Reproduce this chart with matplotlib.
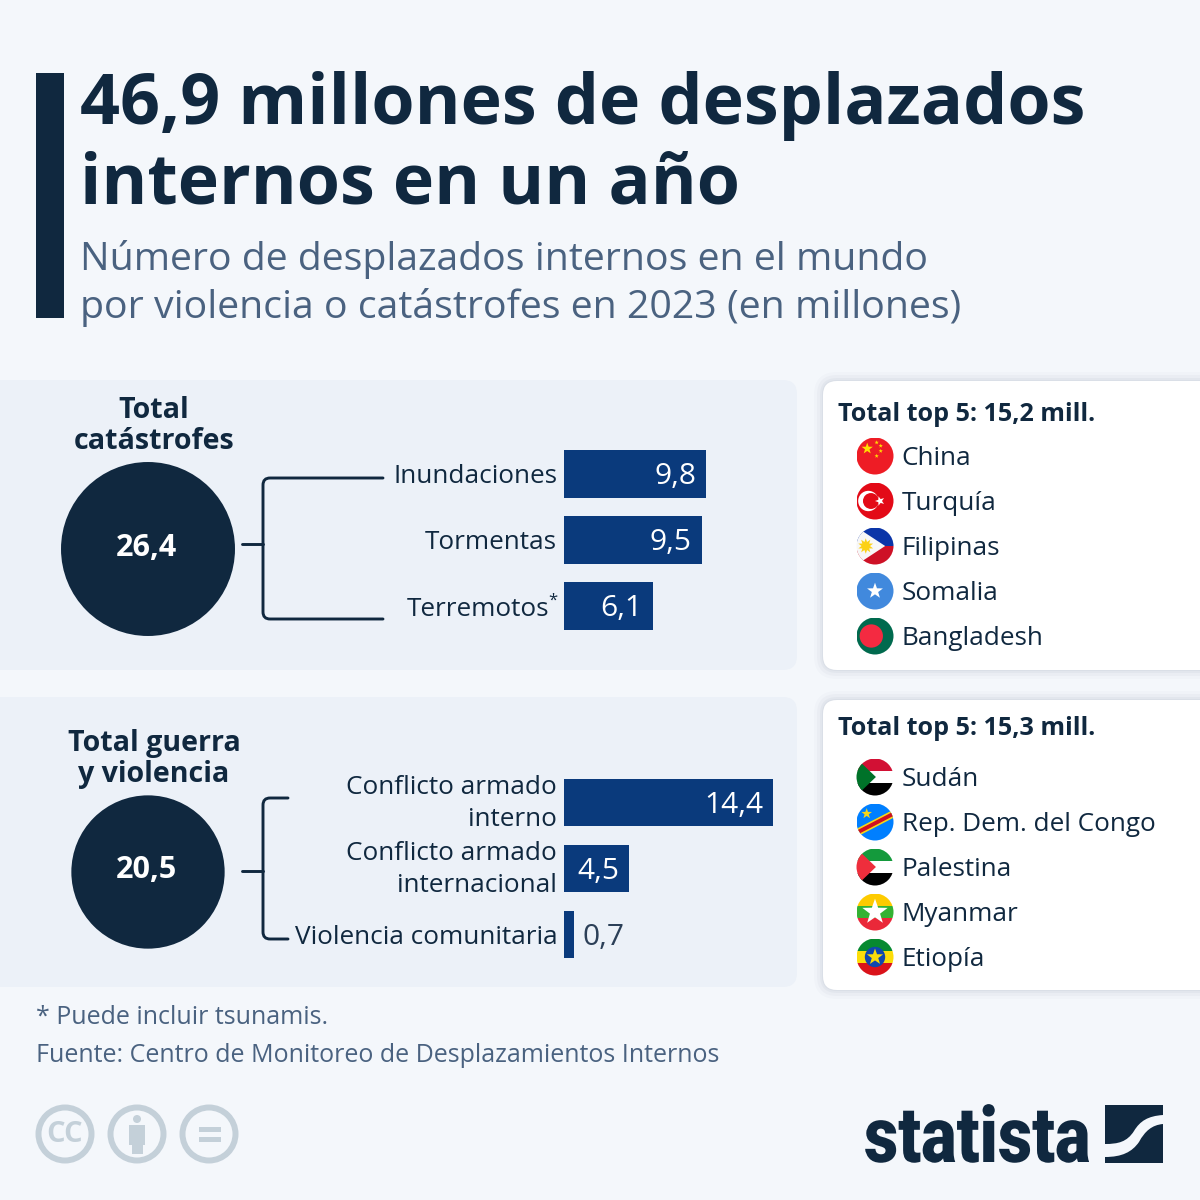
# -*- coding: utf-8 -*-
import numpy as np
import matplotlib
matplotlib.use('Agg')
import matplotlib.pyplot as plt
from matplotlib.patches import Circle, FancyBboxPatch, Polygon, Rectangle, PathPatch
from matplotlib.path import Path
from matplotlib.patheffects import AbstractPathEffect
from matplotlib.transforms import Affine2D

plt.rcParams['font.family'] = ['Open Sans', 'DejaVu Sans']

#Data, in millions of people
catastrophe_total = 26.4
catastrophe_labels = ['Inundaciones', 'Tormentas', 'Terremotos*']
catastrophe_values = [9.8, 9.5, 6.1]
violence_total = 20.5
violence_labels = ['Conflicto armado\ninterno', 'Conflicto armado\ninternacional', 'Violencia comunitaria']
violence_values = [14.4, 4.5, 0.7]
catastrophe_countries = ['China', 'Turquía', 'Filipinas', 'Somalia', 'Bangladesh']
violence_countries = ['Sudán', 'Rep. Dem. del Congo', 'Palestina', 'Myanmar', 'Etiopía']
catastrophe_top5 = 'Total top 5: 15,2 mill.'
violence_top5 = 'Total top 5: 15,3 mill.'

title_lines = ['46,9 millones de desplazados', 'internos en un año']
subtitle_lines = ['Número de desplazados internos en el mundo',
                  'por violencia o catástrofes en 2023 (en millones)']
note = '* Puede incluir tsunamis.'
source = 'Fuente: Centro de Monitoreo de Desplazamientos Internos'

NAVY = '#10283f'
BAR = '#0a3a7c'
SLATE = '#4a6280'
BG = '#f4f7fb'
PANEL = '#ecf1f8'
ICON = '#c4d0d9'

fig = plt.figure(figsize=(12, 12), dpi=100, facecolor=BG)
canvas = fig.add_axes([0, 0, 1, 1])
canvas.set_xlim(0, 1200)
canvas.set_ylim(1200, 0)
canvas.axis('off')


class Squeeze(AbstractPathEffect):
    #narrows a text horizontally around a fixed display x
    def __init__(self, x0, sx):
        super().__init__()
        self.x0 = x0
        self.sx = sx

    def draw_path(self, renderer, gc, tpath, affine, rgbFace=None):
        squeeze = Affine2D().translate(-self.x0, 0).scale(self.sx, 1).translate(self.x0, 0)
        renderer.draw_path(gc, tpath, affine + squeeze, rgbFace)


def fmt(v):
    return ('%.1f' % v).replace('.', ',')


def rounded(x0, y0, x1, y1, r, color, z=1, alpha=1):
    p = FancyBboxPatch((x0, y0), x1 - x0, y1 - y0, boxstyle='round,pad=0,rounding_size=%g' % r,
                       fc=color, ec='none', zorder=z, alpha=alpha)
    canvas.add_patch(p)
    return p


def star(cx, cy, r, color, clip=None, z=6, rot=0):
    a = np.radians(np.arange(10) * 36 + rot)
    rad = np.where(np.arange(10) % 2 == 0, r, r * 0.4)
    pts = np.column_stack((cx + rad * np.sin(a), cy - rad * np.cos(a)))
    p = Polygon(pts, fc=color, ec='none', zorder=z)
    canvas.add_patch(p)
    if clip is not None:
        p.set_clip_path(clip)
    return p


def band(clip, cx, cy, r, y0, y1, color, z=5):
    p = Rectangle((cx - r, cy + y0 * r), 2 * r, (y1 - y0) * r, fc=color, ec='none', zorder=z)
    canvas.add_patch(p)
    p.set_clip_path(clip)


def poly(clip, cx, cy, r, pts, color, z=6):
    pts = np.array(pts, dtype=float)
    p = Polygon(np.column_stack((cx + pts[:, 0] * r, cy + pts[:, 1] * r)), fc=color, ec='none', zorder=z)
    canvas.add_patch(p)
    p.set_clip_path(clip)


def disc(clip, cx, cy, r, dx, dy, rr, color, z=6):
    p = Circle((cx + dx * r, cy + dy * r), rr * r, fc=color, ec='none', zorder=z)
    canvas.add_patch(p)
    p.set_clip_path(clip)


def draw_flag(name, cx, cy):
    r = 18.5
    clip = Circle((cx, cy), r, transform=canvas.transData)
    if name == 'China':
        band(clip, cx, cy, r, -1, 1, '#ee1c25')
        star(cx - 0.42 * r, cy - 0.4 * r, 0.32 * r, '#ffde00', clip)
        for dx, dy in [(0.09, -0.73), (0.31, -0.55), (0.31, -0.27), (0.09, 0.0)]:
            star(cx + dx * r, cy + dy * r, 0.12 * r, '#ffde00', clip)
    elif name == 'Turquía':
        band(clip, cx, cy, r, -1, 1, '#e30a17')
        disc(clip, cx, cy, r, -0.36, 0, 0.55, 'white')
        disc(clip, cx, cy, r, -0.22, 0, 0.43, '#e30a17', z=7)
        star(cx + 0.27 * r, cy, 0.27 * r, 'white', clip, z=8, rot=-90)
    elif name == 'Filipinas':
        band(clip, cx, cy, r, -1, 0, '#0b35a8')
        band(clip, cx, cy, r, 0, 1, '#ce1126')
        poly(clip, cx, cy, r, [(-1.05, -1.05), (0.55, 0), (-1.05, 1.05)], '#f7f7f7')
        disc(clip, cx, cy, r, -0.5, 0, 0.2, '#fcd116', z=7)
        star(cx - 0.5 * r, cy, 0.42 * r, '#fcd116', clip, z=7)
        star(cx - 0.5 * r, cy, 0.42 * r, '#fcd116', clip, z=7, rot=36)
    elif name == 'Somalia':
        band(clip, cx, cy, r, -1, 1, '#4189dd')
        star(cx, cy, 0.45 * r, 'white', clip)
    elif name == 'Bangladesh':
        band(clip, cx, cy, r, -1, 1, '#006a4e')
        disc(clip, cx, cy, r, -0.2, 0, 0.63, '#f42a41')
    elif name in ('Sudán', 'Palestina'):
        top, tri = ('#d21034', '#007229') if name == 'Sudán' else ('#149a3c', '#ee2e3c')
        band(clip, cx, cy, r, -1, -0.33, top)
        band(clip, cx, cy, r, -0.33, 0.33, 'white')
        band(clip, cx, cy, r, 0.33, 1, 'black')
        poly(clip, cx, cy, r, [(-1.05, -1.05), (0.05, 0), (-1.05, 1.05)], tri)
    elif name == 'Rep. Dem. del Congo':
        band(clip, cx, cy, r, -1, 1, '#007fff')
        poly(clip, cx, cy, r, [(-1.1, 0.42), (1.1, -0.72), (1.1, -0.28), (-1.1, 0.86)], '#f7d618')
        poly(clip, cx, cy, r, [(-1.1, 0.52), (1.1, -0.62), (1.1, -0.38), (-1.1, 0.76)], '#ce1021', z=7)
        star(cx - 0.45 * r, cy - 0.45 * r, 0.3 * r, '#f7d618', clip)
    elif name == 'Myanmar':
        band(clip, cx, cy, r, -1, -0.33, '#fecb00')
        band(clip, cx, cy, r, -0.33, 0.33, '#34b233')
        band(clip, cx, cy, r, 0.33, 1, '#ea2839')
        star(cx, cy, 0.72 * r, 'white', clip)
    elif name == 'Etiopía':
        band(clip, cx, cy, r, -1, -0.33, '#078930')
        band(clip, cx, cy, r, -0.33, 0.33, '#fcdd09')
        band(clip, cx, cy, r, 0.33, 1, '#da121a')
        disc(clip, cx, cy, r, 0, 0, 0.55, '#0f47af')
        star(cx, cy, 0.46 * r, '#fcdd09', clip, z=7)


def bracket(stem_y, top_y, bottom_y, x_end):
    x = 263
    c = 7
    verts = [(x_end, top_y), (x + c, top_y), (x, top_y), (x, top_y + c), (x, bottom_y - c),
             (x, bottom_y), (x + c, bottom_y), (x_end, bottom_y)]
    codes = [Path.MOVETO, Path.LINETO, Path.CURVE3, Path.CURVE3, Path.LINETO,
             Path.CURVE3, Path.CURVE3, Path.LINETO]
    canvas.add_patch(PathPatch(Path(verts, codes), fc='none', ec=NAVY, lw=2.1, capstyle='round', zorder=3))
    canvas.plot([242, x], [stem_y, stem_y], color=NAVY, lw=2.1, solid_capstyle='round', zorder=3)


def bar_panel(top, labels, values):
    # axes scaled at 14.5 px per million, three rows of 66 px
    left = 564.2
    w = 226
    h = 198
    ax = fig.add_axes([left / 1200, 1 - (top + h) / 1200, w / 1200, h / 1200], zorder=4)
    ax.patch.set_visible(False)
    ax.set_xlim(0, w / 14.5)
    ax.set_ylim(2.5, -0.5)
    ax.axis('off')
    ypos = np.arange(len(values))
    ax.barh(ypos, values, height=0.72, color=BAR)
    for y, v, lab in zip(ypos, values, labels):
        if lab.endswith('*'):
            ax.annotate(lab[:-1], (0, y), xytext=(-15, -3), textcoords='offset pixels', ha='right',
                        va='center', fontsize=18.8, color=NAVY, annotation_clip=False)
            ax.annotate('*', (0, y), xytext=(-7, 5), textcoords='offset pixels', ha='right',
                        va='center', fontsize=12, color=NAVY, annotation_clip=False)
        else:
            dy = -1 if '\n' in lab else -3
            ax.annotate(lab, (0, y), xytext=(-7, dy), textcoords='offset pixels', ha='right',
                        va='center', fontsize=18.8, color=NAVY, linespacing=1.33, annotation_clip=False)
        if v > 2:
            ax.annotate(fmt(v), (v, y), xytext=(-10, -3), textcoords='offset pixels', ha='right',
                        va='center', fontsize=21.5, color='white')
        else:
            ax.annotate(fmt(v), (v, y), xytext=(8, -3), textcoords='offset pixels', ha='left',
                        va='center', fontsize=21.5, color='#2c4058')


def total_circle(cy, value):
    # circle area follows the total
    r = 16.93 * np.sqrt(value)
    canvas.add_patch(Circle((148, cy), r, fc=NAVY, ec='none', zorder=3))
    canvas.text(146, cy - 1.5, fmt(value), ha='center', va='center', color='white',
                fontsize=22, fontweight='bold', zorder=4)


def card(y0, y1, title, title_y, countries, ys):
    for grow, a in [(9, 0.025), (6, 0.04), (3, 0.05), (1, 0.06)]:
        rounded(823 - grow, y0 - grow, 1240, y1 + grow, 14 + grow, '#5a6f8a', z=1.5, alpha=a)
    rounded(823, y0, 1240, y1, 14, 'white', z=2)
    canvas.text(838, title_y, title, ha='left', va='baseline', color=NAVY, fontsize=18.1,
                fontweight='bold', zorder=4)
    for name, y in zip(countries, ys):
        draw_flag(name, 875, y)
        canvas.text(901.5, y + 9, name, ha='left', va='baseline', color=NAVY, fontsize=18.8, zorder=4)


#Header
canvas.add_patch(Rectangle((36, 73), 28, 245, fc=NAVY, ec='none'))
for line, y in zip(title_lines, [124, 203]):
    canvas.text(80, y, line, ha='left', va='baseline', color=NAVY, fontsize=50.4, fontweight='bold')
for line, y in zip(subtitle_lines, [270, 318]):
    canvas.text(80, y, line, ha='left', va='baseline', color=SLATE, fontsize=28.25)

#Left panels
rounded(-30, 380, 797, 670, 14, PANEL)
rounded(-30, 697, 797, 987, 14, PANEL)
for line, y in [('Total', 418), ('catástrofes', 449), ('Total guerra', 751), ('y violencia', 782)]:
    canvas.text(154, y, line, ha='center', va='baseline', color=NAVY, fontsize=20.6, fontweight='bold', zorder=4)
total_circle(549, catastrophe_total)
total_circle(872, violence_total)
bracket(544, 478, 619, 383)
bracket(871, 798, 939, 288)
bar_panel(441, catastrophe_labels, catastrophe_values)
bar_panel(769.5, violence_labels, violence_values)

#Country cards
card(381, 670, catastrophe_top5, 421, catastrophe_countries, [456, 501, 546, 591, 636])
card(700, 990, violence_top5, 735, violence_countries, [777, 822, 867, 912, 957])

#Footer
canvas.text(36, 1024, note, ha='left', va='baseline', color=SLATE, fontsize=18)
canvas.text(36, 1062, source, ha='left', va='baseline', color=SLATE, fontsize=18)

#Licence icons
for cx in [65, 137, 209]:
    canvas.add_patch(Circle((cx, 1134), 26.5, fc='none', ec=ICON, lw=4.3))
canvas.text(65, 1134, 'CC', ha='center', va='center', color=ICON, fontsize=21, fontweight='bold')
canvas.add_patch(Circle((137, 1119), 4, fc=ICON, ec='none'))
canvas.add_patch(Rectangle((129, 1125), 16, 20, fc=ICON, ec='none'))
canvas.add_patch(Rectangle((131.5, 1145), 11, 9, fc=ICON, ec='none'))
canvas.add_patch(Rectangle((199, 1127), 22, 5, fc=ICON, ec='none'))
canvas.add_patch(Rectangle((199, 1137), 22, 5, fc=ICON, ec='none'))

#Logo
logo = canvas.text(864, 1162, 'statista', ha='left', va='baseline', color=NAVY, fontsize=56,
                   fontweight='heavy', family='Roboto')
logo.set_path_effects([Squeeze(864, 0.858)])
upper = [(1105, 1105), (1163, 1105), (1163, 1115), (1148, 1116), (1140, 1121), (1134, 1131),
         (1127, 1142), (1118, 1144), (1105, 1144), (1105, 1105)]
upper_codes = [Path.MOVETO, Path.LINETO, Path.LINETO, Path.CURVE4, Path.CURVE4, Path.CURVE4,
               Path.CURVE4, Path.CURVE4, Path.CURVE4, Path.CLOSEPOLY]
lower = [(1163, 1124), (1163, 1163), (1105, 1163), (1105, 1157), (1122, 1157), (1132, 1152), (1139, 1142),
         (1145, 1131), (1152, 1125), (1163, 1124)]
lower_codes = [Path.MOVETO, Path.LINETO, Path.LINETO, Path.LINETO, Path.CURVE4, Path.CURVE4, Path.CURVE4,
               Path.CURVE4, Path.CURVE4, Path.CURVE4]
canvas.add_patch(PathPatch(Path(upper, upper_codes), fc=NAVY, ec='none'))
canvas.add_patch(PathPatch(Path(lower, lower_codes), fc=NAVY, ec='none'))

fig.savefig('out.png', dpi=100, facecolor=BG)
